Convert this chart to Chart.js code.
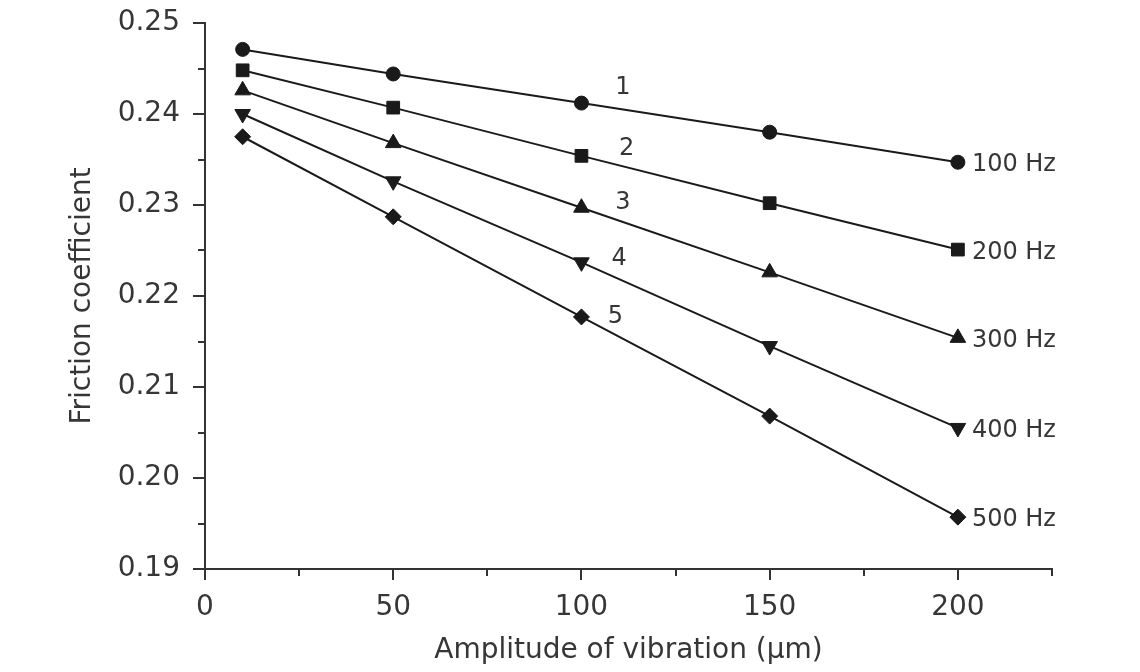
<!DOCTYPE html>
<html>
<head>
<meta charset="utf-8">
<title>Friction coefficient vs amplitude of vibration</title>
<script src="https://cdn.jsdelivr.net/npm/chart.js@4.4.1/dist/chart.umd.min.js"></script>
<style>
  html, body { margin: 0; padding: 0; background: #fff; }
  #wrap { width: 1140px; height: 672px; }
</style>
</head>
<body>
<div id="wrap"><canvas id="chart"></canvas></div>
<script>
// values
const amplitudes = [10, 50, 100, 150, 200];
const f100 = [0.2471, 0.2444, 0.2412, 0.2380, 0.2347];
const f200 = [0.2448, 0.2407, 0.2354, 0.2302, 0.2251];
const f300 = [0.2426, 0.2368, 0.2297, 0.2226, 0.2154];
const f400 = [0.2400, 0.2326, 0.2237, 0.2145, 0.2055];
const f500 = [0.2375, 0.2287, 0.2177, 0.2068, 0.1957];
const seriesNames = ['100 Hz', '200 Hz', '300 Hz', '400 Hz', '500 Hz'];

const xTickLabels = [0, 50, 100, 150, 200];
const yTickLabels = [0.19, 0.20, 0.21, 0.22, 0.23, 0.24, 0.25];

// curve numbers written between the lines (data coords)
const curveNumbers = ['1', '2', '3', '4', '5'];
const curveNumberX = [111, 112, 111, 110, 109];
const curveNumberY = [0.2429, 0.2362, 0.2302, 0.2241, 0.2177];

const ink = '#1a1a1a';
const textColor = '#363636';
const fontFamily = '"DejaVu Sans", "Liberation Sans", Arial, sans-serif';

const isLabelled = (list, v) => list.some(t => Math.abs(t - v) < 1e-6);

function series(label, values, style, radius, rotation) {
    return {
        label: label,
        data: amplitudes.map((a, i) => ({ x: a, y: values[i] })),
        borderColor: ink,
        borderWidth: 2,
        pointStyle: style,
        pointRadius: radius,
        pointRotation: rotation || 0,
        pointBackgroundColor: ink,
        pointBorderColor: ink,
        pointBorderWidth: 1,
        tension: 0
    };
}

// minor/major tick marks, curve numbers and frequency labels
const extras = {
    id: 'extras',
    afterDraw(chart) {
        const ctx = chart.ctx;
        const xs = chart.scales.x;
        const ys = chart.scales.y;
        const area = chart.chartArea;
        ctx.save();
        ctx.strokeStyle = '#333';
        ctx.lineWidth = 2;
        ys.ticks.forEach(t => {
            const len = isLabelled(yTickLabels, t.value) ? 12 : 7;
            const py = Math.round(ys.getPixelForValue(t.value));
            ctx.beginPath();
            ctx.moveTo(area.left - len, py);
            ctx.lineTo(area.left, py);
            ctx.stroke();
        });
        xs.ticks.forEach(t => {
            const len = isLabelled(xTickLabels, t.value) ? 11 : 7;
            const px = Math.round(xs.getPixelForValue(t.value));
            ctx.beginPath();
            ctx.moveTo(px, area.bottom);
            ctx.lineTo(px, area.bottom + len);
            ctx.stroke();
        });

        ctx.fillStyle = textColor;
        ctx.font = '24px ' + fontFamily;
        ctx.textAlign = 'center';
        ctx.textBaseline = 'middle';
        curveNumbers.forEach((n, i) => {
            ctx.fillText(n, xs.getPixelForValue(curveNumberX[i]), ys.getPixelForValue(curveNumberY[i]));
        });

        ctx.textAlign = 'left';
        chart.data.datasets.forEach((ds, i) => {
            const pts = chart.getDatasetMeta(i).data;
            const last = pts[pts.length - 1];
            ctx.fillText(ds.label, last.x + 14, last.y + 3);
        });
        ctx.restore();
    }
};

new Chart(document.getElementById('chart'), {
    type: 'line',
    data: {
        datasets: [
            series(seriesNames[0], f100, 'circle', 7),
            series(seriesNames[1], f200, 'rect', 9),
            series(seriesNames[2], f300, 'triangle', 9),
            series(seriesNames[3], f400, 'triangle', 9, 180),
            series(seriesNames[4], f500, 'rectRot', 8)
        ]
    },
    options: {
        responsive: true,
        maintainAspectRatio: false,
        animation: false,
        layout: { padding: { left: 0, right: 88, top: 23, bottom: 0 } },
        plugins: {
            legend: { display: false },
            tooltip: { enabled: false }
        },
        scales: {
            x: {
                type: 'linear',
                min: 0,
                max: 225,
                afterFit: s => { s.height = 103; s.paddingLeft = 0; s.paddingRight = 0; },
                grid: { display: false, drawTicks: true, tickLength: 10 },
                border: { display: true, color: '#333', width: 2 },
                ticks: {
                    stepSize: 25,
                    padding: 12,
                    maxRotation: 0,
                    autoSkip: false,
                    color: textColor,
                    font: { family: fontFamily, size: 28 },
                    callback: v => isLabelled(xTickLabels, v) ? String(v) : ''
                },
                title: {
                    display: true,
                    text: 'Amplitude of vibration (μm)',
                    color: textColor,
                    font: { family: fontFamily, size: 28 },
                    padding: { top: 0, bottom: 4 }
                }
            },
            y: {
                min: 0.19,
                max: 0.25,
                afterFit: s => { s.width = 205; s.paddingTop = 0; s.paddingBottom = 0; },
                grid: { display: false, drawTicks: true, tickLength: 12 },
                border: { display: true, color: '#333', width: 2 },
                ticks: {
                    stepSize: 0.005,
                    padding: 13,
                    autoSkip: false,
                    color: textColor,
                    font: { family: fontFamily, size: 28 },
                    callback: v => isLabelled(yTickLabels, v) ? v.toFixed(2) : ''
                },
                title: {
                    display: true,
                    text: 'Friction coefficient',
                    color: textColor,
                    font: { family: fontFamily, size: 28 },
                    padding: { top: 66, bottom: 0 }
                }
            }
        }
    },
    plugins: [extras]
});
</script>
</body>
</html>
